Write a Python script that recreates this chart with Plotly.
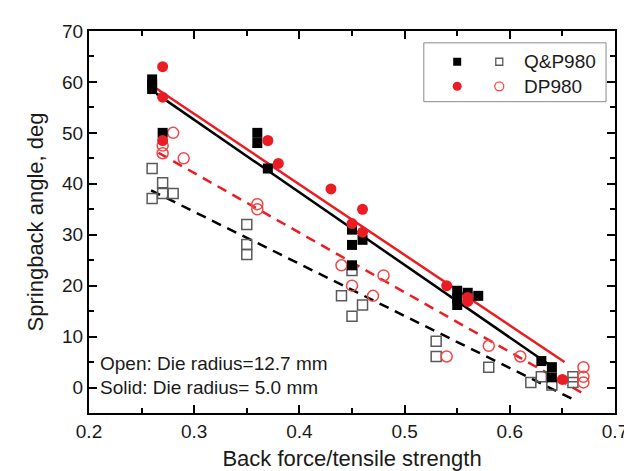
import plotly.graph_objects as go

# ---- data ----
qp_solid_x = [0.26, 0.26, 0.26, 0.27, 0.36, 0.36, 0.37, 0.45, 0.45, 0.46, 0.45, 0.55, 0.55, 0.55, 0.56, 0.57, 0.63, 0.64, 0.64]
qp_solid_y = [60.5, 59.5, 58.6, 50.0, 50.0, 48.0, 43.0, 31.0, 28.0, 29.0, 24.0, 19.0, 17.5, 16.2, 18.6, 18.0, 5.2, 4.0, 2.0]

dp_solid_x = [0.27, 0.27, 0.27, 0.37, 0.38, 0.43, 0.46, 0.45, 0.46, 0.54, 0.56, 0.56, 0.65]
dp_solid_y = [63.0, 57.0, 48.5, 48.5, 44.0, 39.0, 35.0, 32.2, 30.5, 20.0, 17.7, 16.9, 1.6]

qp_open_x = [0.26, 0.27, 0.27, 0.28, 0.26, 0.35, 0.35, 0.35, 0.44, 0.45, 0.45, 0.46, 0.53, 0.53, 0.58, 0.62, 0.63, 0.64, 0.66, 0.66]
qp_open_y = [43.0, 40.2, 38.1, 38.1, 37.1, 32.0, 28.1, 26.1, 18.0, 23.0, 14.0, 16.2, 9.1, 6.1, 4.0, 1.0, 2.1, 0.5, 2.1, 1.0]

dp_open_x = [0.27, 0.27, 0.28, 0.29, 0.36, 0.36, 0.44, 0.45, 0.48, 0.47, 0.54, 0.58, 0.61, 0.67, 0.67, 0.67]
dp_open_y = [47.5, 46.0, 50.0, 45.0, 36.0, 35.0, 24.0, 20.0, 22.0, 18.0, 6.1, 8.2, 6.1, 4.0, 2.1, 1.0]

# linear fit lines (end points)
qp_solid_fit_x = [0.264, 0.643]
qp_solid_fit_y = [57.7, 3.7]
dp_solid_fit_x = [0.264, 0.652]
dp_solid_fit_y = [58.7, 5.0]
qp_open_fit_x = [0.259, 0.661]
qp_open_fit_y = [38.7, -2.4]
dp_open_fit_x = [0.266, 0.670]
dp_open_fit_y = [46.1, -1.2]

x_ticks = [0.2, 0.3, 0.4, 0.5, 0.6, 0.7]
x_tick_labels = ["0.2", "0.3", "0.4", "0.5", "0.6", "0.7"]
y_ticks = [0, 10, 20, 30, 40, 50, 60, 70]
y_tick_labels = ["0", "10", "20", "30", "40", "50", "60", "70"]

legend_names = ["Q&P980", "DP980"]
note_lines = ["Open: Die radius=12.7 mm", "Solid: Die radius= 5.0 mm"]

RED = "#ec1c24"
RED_OPEN = "#f04848"
GRAY = "#5a5a5a"
FONT = "Arial, Liberation Sans, Helvetica, sans-serif"

fig = go.Figure()

# fit lines
fig.add_trace(go.Scatter(x=qp_open_fit_x, y=qp_open_fit_y, mode="lines",
                         line=dict(color="black", width=2.5, dash="10px,7px"), showlegend=False))
fig.add_trace(go.Scatter(x=dp_open_fit_x, y=dp_open_fit_y, mode="lines",
                         line=dict(color=RED, width=2.5, dash="10px,7px"), showlegend=False))
fig.add_trace(go.Scatter(x=qp_solid_fit_x, y=qp_solid_fit_y, mode="lines",
                         line=dict(color="black", width=2.5), showlegend=False))
fig.add_trace(go.Scatter(x=dp_solid_fit_x, y=dp_solid_fit_y, mode="lines",
                         line=dict(color=RED, width=2.5), showlegend=False))

# markers
fig.add_trace(go.Scatter(x=qp_open_x, y=qp_open_y, mode="markers",
                         marker=dict(symbol="square-open", size=10, color=GRAY, line=dict(width=1.5)),
                         showlegend=False))
fig.add_trace(go.Scatter(x=dp_open_x, y=dp_open_y, mode="markers",
                         marker=dict(symbol="circle-open", size=11, color=RED_OPEN, line=dict(width=1.5)),
                         showlegend=False))
fig.add_trace(go.Scatter(x=qp_solid_x, y=qp_solid_y, mode="markers",
                         marker=dict(symbol="square", size=10, color="black", line=dict(width=0)),
                         showlegend=False))
fig.add_trace(go.Scatter(x=dp_solid_x, y=dp_solid_y, mode="markers",
                         marker=dict(symbol="circle", size=11, color=RED, line=dict(width=0)),
                         showlegend=False))

axis_common = dict(
    showline=True, linecolor="black", linewidth=2, mirror="allticks",
    ticks="inside", ticklen=8, tickwidth=2, tickcolor="black",
    showgrid=False, zeroline=False,
    tickfont=dict(family=FONT, size=19, color="#1a1a1a"),
)

fig.update_xaxes(
    range=[0.2, 0.7], tickvals=x_ticks, ticktext=x_tick_labels,
    minor=dict(dtick=0.05, tick0=0.2, ticks="inside", ticklen=5, tickwidth=2, tickcolor="black"),
    title=dict(text="Back force/tensile strength", font=dict(family=FONT, size=22, color="#1a1a1a"), standoff=10),
    **axis_common,
)
fig.update_yaxes(
    range=[-5, 70], tickvals=y_ticks, ticktext=y_tick_labels,
    minor=dict(dtick=5, tick0=0, ticks="inside", ticklen=5, tickwidth=2, tickcolor="black"),
    title=dict(text="Springback angle, deg", font=dict(family=FONT, size=22, color="#1a1a1a"), standoff=12),
    **axis_common,
)

# legend box drawn manually (two markers per row)
shapes = [dict(type="rect", xref="paper", yref="paper", x0=0.6365, x1=0.983, y0=0.815, y1=0.969,
               line=dict(color="#8a8a8a", width=1), fillcolor="white", layer="above")]
leg_rows_y = [0.9195, 0.8553]
solid_x, open_x = 0.700, 0.780
# Q&P980 squares
shapes.append(dict(type="rect", xref="paper", yref="paper", xsizemode="pixel", ysizemode="pixel",
                   xanchor=solid_x, yanchor=leg_rows_y[0], x0=-4, x1=4, y0=-4, y1=4,
                   fillcolor="black", line=dict(width=0), layer="above"))
shapes.append(dict(type="rect", xref="paper", yref="paper", xsizemode="pixel", ysizemode="pixel",
                   xanchor=open_x, yanchor=leg_rows_y[0], x0=-3.5, x1=3.5, y0=-3.5, y1=3.5,
                   fillcolor="white", line=dict(width=1.3, color=GRAY), layer="above"))
# DP980 circles
shapes.append(dict(type="circle", xref="paper", yref="paper", xsizemode="pixel", ysizemode="pixel",
                   xanchor=solid_x, yanchor=leg_rows_y[1], x0=-4.5, x1=4.5, y0=-4.5, y1=4.5,
                   fillcolor=RED, line=dict(width=0), layer="above"))
shapes.append(dict(type="circle", xref="paper", yref="paper", xsizemode="pixel", ysizemode="pixel",
                   xanchor=open_x, yanchor=leg_rows_y[1], x0=-4.5, x1=4.5, y0=-4.5, y1=4.5,
                   fillcolor="white", line=dict(width=1.3, color=RED_OPEN), layer="above"))

annotations = []
for name, yy in zip(legend_names, leg_rows_y):
    annotations.append(dict(text=name, xref="paper", yref="paper", x=0.824, y=yy,
                            xanchor="left", yanchor="middle", showarrow=False,
                            font=dict(family=FONT, size=19, color="#1a1a1a")))
for line_text, yy in zip(note_lines, [0.129, 0.067]):
    annotations.append(dict(text=line_text, xref="paper", yref="paper", x=0.018, y=yy,
                            xanchor="left", yanchor="middle", showarrow=False,
                            font=dict(family=FONT, size=19, color="#1a1a1a")))

fig.update_layout(
    width=632, height=471,
    margin=dict(l=81, r=20, t=23, b=59),
    paper_bgcolor="white", plot_bgcolor="white",
    shapes=shapes, annotations=annotations,
    showlegend=False,
)

fig.write_html("out.html")
